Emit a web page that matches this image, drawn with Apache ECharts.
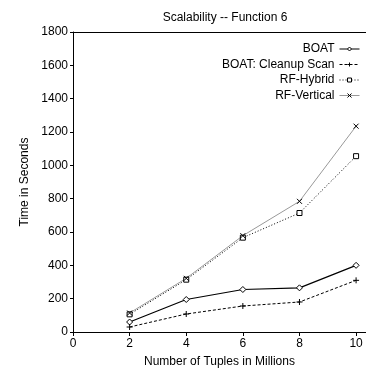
<!DOCTYPE html>
<html><head><meta charset="utf-8">
<script src="https://cdn.jsdelivr.net/npm/echarts@6/dist/echarts.min.js"></script>
<style>html,body{margin:0;padding:0;background:#fff}#c{width:366px;height:374px}</style>
</head><body><div id="c"></div>
<script>
var xValues = [2, 4, 6, 8, 10];
var boat = [60, 195, 255, 265, 400];
var boatCleanup = [30, 108, 156, 180, 310];
var rfHybrid = [106, 314, 566, 714, 1055];
var rfVertical = [114, 322, 578, 784, 1235];
var xTicks = [0, 2, 4, 6, 8, 10];
var seriesNames = ['BOAT', 'BOAT: Cleanup Scan', 'RF-Hybrid', 'RF-Vertical'];

function pairs(v){ return xValues.map(function(x,i){ return [x, v[i]]; }); }
var font = 'Liberation Sans';
var chart = echarts.init(document.getElementById('c'));
var plus = 'path://M0,5L10,5M5,0L5,10';
var cross = 'path://M0,0L10,10M10,0L0,10';
chart.setOption({
  animation:false,
  title:{text:'Scalability -- Function 6', left:220, top:7, textAlign:'center',
    textStyle:{fontFamily:font, fontSize:12, fontWeight:'normal', color:'#000'}},
  legend:{right:6, top:43, padding:0, orient:'vertical', align:'right', itemGap:3.5, itemWidth:20, itemHeight:5,
    lineStyle:{width:1}, itemStyle:{borderWidth:1},
    textStyle:{fontFamily:font, fontSize:12, color:'#000', padding:[0,0,0,0]}, data:seriesNames},
  grid:{left:73, right:0, top:32, bottom:42, containLabel:false},
  xAxis:[{type:'value', min:0, max:10.35, position:'bottom',
    name:'Number of Tuples in Millions', nameLocation:'middle', nameGap:24,
    nameTextStyle:{fontFamily:font, fontSize:12, color:'#000'},
    axisLine:{lineStyle:{color:'#000', width:1}},
    axisTick:{inside:false, length:4, lineStyle:{color:'#000'}, customValues:xTicks},
    axisLabel:{fontFamily:font, fontSize:12, color:'#000', margin:6, customValues:xTicks},
    splitLine:{show:false}},
   {type:'value', min:0, max:10.35, position:'top', axisLine:{show:true, lineStyle:{color:'#000'}},
    axisTick:{show:false}, axisLabel:{show:false}, splitLine:{show:false}}],
  yAxis:{type:'value', min:0, max:1800, interval:200,
    name:'Time in Seconds', nameLocation:'middle', nameGap:42, nameRotate:90,
    nameTextStyle:{fontFamily:font, fontSize:12, color:'#000'},
    axisLine:{show:true, lineStyle:{color:'#000'}},
    axisTick:{show:true, length:3, lineStyle:{color:'#000'}},
    axisLabel:{fontFamily:font, fontSize:12, color:'#000', margin:5, formatter:function(v){return String(v);}},
    splitLine:{show:false}},
  series:[
    {name:seriesNames[0], type:'line', data:pairs(boat), symbol:'diamond', symbolSize:6,
      itemStyle:{color:'#fff', borderColor:'#000', borderWidth:1},
      lineStyle:{color:'#000', width:1.2, type:'solid'}},
    {name:seriesNames[1], type:'line', data:pairs(boatCleanup), symbol:plus, symbolSize:6,
      itemStyle:{color:'none', borderColor:'#000', borderWidth:1},
      lineStyle:{color:'#000', width:1, type:[3,2]}},
    {name:seriesNames[2], type:'line', data:pairs(rfHybrid), symbol:'rect', symbolSize:5,
      itemStyle:{color:'#fff', borderColor:'#000', borderWidth:1},
      lineStyle:{color:'#000', width:1, type:[1,2]}},
    {name:seriesNames[3], type:'line', data:pairs(rfVertical), symbol:cross, symbolSize:5,
      itemStyle:{color:'none', borderColor:'#000', borderWidth:1},
      lineStyle:{color:'#999', width:1, type:'solid'}}
  ]
});
</script></body></html>
